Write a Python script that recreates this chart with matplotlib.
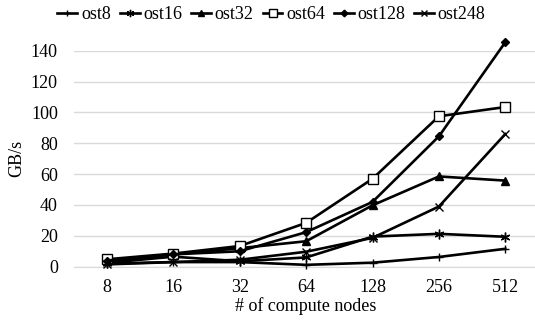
import matplotlib
matplotlib.use("Agg")
import matplotlib.pyplot as plt

categories = ["8", "16", "32", "64", "128", "256", "512"]
ost8 = [2.0, 3.0, 3.0, 1.2, 2.6, 6.3, 11.6]
ost16 = [2.5, 6.5, 3.5, 6.0, 19.5, 21.3, 19.4]
ost32 = [3.5, 8.0, 12.0, 16.5, 39.8, 58.5, 55.8]
ost64 = [4.8, 8.5, 13.4, 28.4, 57.0, 97.5, 103.5]
ost128 = [4.0, 8.0, 10.0, 22.4, 42.0, 84.5, 145.5]
ost248 = [1.5, 3.0, 4.5, 9.7, 18.7, 39.0, 86.0]
yticks = [0, 20, 40, 60, 80, 100, 120, 140]

plt.rcParams['font.family'] = ['Liberation Serif', 'DejaVu Serif']

fig = plt.figure(figsize=(5.35, 3.31), dpi=100)
ax = fig.add_axes([73.8/535, (331-266.7)/331, 464.7/535, (266.7-50.7)/331])

x = list(range(len(categories)))
series = [
    ("ost8", ost8, dict(marker='+', markersize=6, mfc='black', mew=1.0)),
    ("ost16", ost16, dict(marker=(6, 2, 0), markersize=7, mfc='black', mew=1.0)),
    ("ost32", ost32, dict(marker='^', markersize=6, mfc='black', mew=1.0)),
    ("ost64", ost64, dict(marker='s', markersize=7, mfc='white', mew=1.0)),
    ("ost128", ost128, dict(marker='D', markersize=4.5, mfc='black', mew=1.0)),
    ("ost248", ost248, dict(marker='x', markersize=6, mfc='black', mew=1.0)),
]
handles = []
for name, vals, kw in series:
    ln, = ax.plot(x, vals, color='black', lw=1.9, mec='black', clip_on=False,
                  label=name, zorder=3, **kw)
    handles.append(ln)

ax.set_xlim(-0.5, 6.5)
ax.set_ylim(0, 140)
ax.set_yticks(yticks)
ax.set_xticks(x)
ax.set_xticklabels(categories)
ax.grid(axis='y', color='#d9d9d9', lw=1.0)
ax.set_axisbelow(True)
for s in ['top', 'right', 'left']:
    ax.spines[s].set_visible(False)
ax.spines['bottom'].set_color('#d9d9d9')
ax.tick_params(axis='both', length=0, labelsize=13)
ax.tick_params(axis='x', pad=9)
ax.tick_params(axis='y', pad=11.5)
ax.set_xlabel("# of compute nodes", fontsize=13, labelpad=1)
ax.set_ylabel("GB/s", fontsize=13, labelpad=4)

fig.legend(handles=handles, loc='upper center', bbox_to_anchor=(0.5075, 1.03), ncol=6,
           frameon=False, fontsize=13, handlelength=1.1, handletextpad=0.2,
           columnspacing=0.5, markerscale=0.75)

fig.savefig("out.png", dpi=100)
